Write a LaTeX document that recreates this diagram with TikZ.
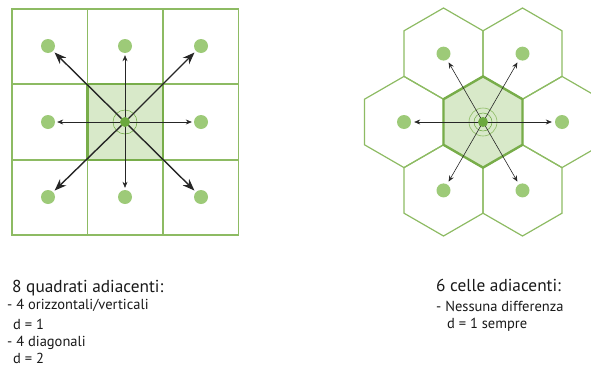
\documentclass[tikz,border=0pt]{standalone}
\usepackage{fontspec}
\setmainfont{PT Sans}
\usetikzlibrary{arrows.meta}
\definecolor{gline}{HTML}{8DBB63}
\definecolor{gedge}{HTML}{78AD4A}
\definecolor{gfill}{HTML}{D8E9C9}
\definecolor{gdot}{HTML}{9DCA78}
\definecolor{gdark}{HTML}{6BA83E}
\begin{document}
\begin{tikzpicture}[x=1pt,y=-1pt,
  dotnode/.style={circle,fill=gdot,inner sep=0pt,minimum size=14pt},
  cdot/.style={circle,fill=gdark,inner sep=0pt,minimum size=10pt},
  thinarr/.style={draw=black!85,line width=0.6pt,-{Stealth[length=6pt,width=5pt]},shorten >=2pt},
  thickarr/.style={draw=black!85,line width=1.4pt,-{Stealth[length=12pt,width=9pt]},shorten >=2pt},
  cellline/.style={draw=gline,line width=1.5pt},
  centerline/.style={draw=gedge,line width=2.4pt},
  head/.style={anchor=base west,inner sep=0pt,font=\fontsize{17.3}{20}\selectfont,text=black!90},
  small/.style={anchor=base west,inner sep=0pt,font=\fontsize{14.5}{16}\selectfont,text=black!90}]
\useasboundingbox (0,0) rectangle (591,367);
\begin{scope}
\clip (0,0) rectangle (591,367);
% ---------- square grid ----------
\fill[gfill] (87.5,84) rectangle (163,160);
\draw[cellline] (12,9) rectangle (238.5,235);
\draw[cellline] (87.5,9) -- (87.5,235) (163,9) -- (163,235)
                (12,84) -- (238.5,84) (12,160) -- (238.5,160);
\draw[centerline] (87.5,84) rectangle (163,160);
\node[dotnode] (q1) at (48,46) {};
\node[dotnode] (q2) at (125,46) {};
\node[dotnode] (q3) at (201,46) {};
\node[dotnode] (q4) at (48,122) {};
\node[dotnode] (q6) at (201,122) {};
\node[dotnode] (q7) at (48,197) {};
\node[dotnode] (q8) at (125,197) {};
\node[dotnode] (q9) at (201,197) {};
\coordinate (qo) at (125,122);
\draw[gdark,line width=0.5pt] (qo) circle (12);
\draw[thinarr] (qo) -- (q2);
\draw[thinarr] (qo) -- (q4);
\draw[thinarr] (qo) -- (q6);
\draw[thinarr] (qo) -- (q8);
\draw[thickarr] (qo) -- (q1);
\draw[thickarr] (qo) -- (q3);
\draw[thickarr] (qo) -- (q7);
\draw[thickarr] (qo) -- (q9);
\node[cdot] (qc) at (qo) {};
% ---------- hex grid ----------
\foreach \cx/\cy in {404/122, 562/122, 443.5/53.6, 522.5/53.6, 443.5/190.4, 522.5/190.4}{
  \draw[cellline,line width=1.2pt,shift={(\cx,\cy)}] (30:45.6) -- (90:45.6) -- (150:45.6) -- (210:45.6) -- (270:45.6) -- (330:45.6) -- cycle;
}
\fill[gfill,shift={(483,122)}] (30:45.6) -- (90:45.6) -- (150:45.6) -- (210:45.6) -- (270:45.6) -- (330:45.6) -- cycle;
\draw[centerline,shift={(483,122)}] (30:45.6) -- (90:45.6) -- (150:45.6) -- (210:45.6) -- (270:45.6) -- (330:45.6) -- cycle;
\node[dotnode] (h1) at (443.5,53.6) {};
\node[dotnode] (h2) at (522.5,53.6) {};
\node[dotnode] (h3) at (404,122) {};
\node[dotnode] (h4) at (562,122) {};
\node[dotnode] (h5) at (443.5,190.4) {};
\node[dotnode] (h6) at (522.5,190.4) {};
\coordinate (ho) at (483,122);
\draw[gline,line width=0.6pt] (ho) circle (14);
\draw[gdark,line width=0.5pt] (ho) circle (9);
\foreach \n in {h1,h2,h3,h4,h5,h6}{
  \draw[thinarr,shorten >=3pt] (ho) -- (\n);
}
\node[cdot] (hc) at (ho) {};
\end{scope}
% ---------- texts ----------
\node[head] (t1) at (12,292) {8 quadrati adiacenti:};
\node[small] (t2) at (7,309) {- 4 orizzontali/verticali};
\node[small] (t3) at (13,329) {d = 1};
\node[small] (t4) at (7,346) {- 4 diagonali};
\node[small] (t5) at (13,363) {d = 2};
\node[head] (r1) at (436,291.5) {6 celle adiacenti:};
\node[small] (r2) at (436,311) {- Nessuna differenza};
\node[small] (r3) at (447,328) {d = 1 sempre};
\end{tikzpicture}
\end{document}
